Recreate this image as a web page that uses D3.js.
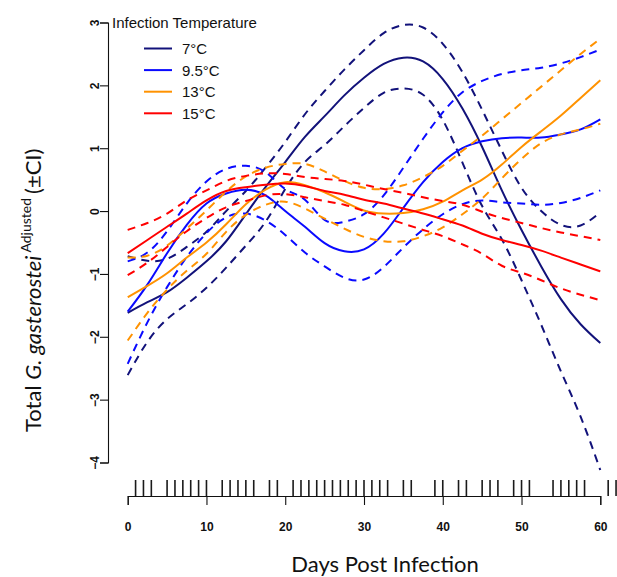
<!DOCTYPE html>
<html>
<head>
<meta charset="utf-8">
<script src="https://cdn.jsdelivr.net/npm/d3@7"></script>
<style>
  body { margin: 0; background: #fff; }
  svg { display: block; }
</style>
</head>
<body>
<svg id="chart" width="617" height="577"></svg>
<script>
// Days at which the fitted smooths are sampled
const days = [0, 2.5, 5, 7.5, 10, 12.5, 15, 17.5, 20, 22.5, 25, 27.5, 30,
              32.5, 35, 37.5, 40, 42.5, 45, 47.5, 50, 52.5, 55, 57.5, 60];

// 7°C: fitted mean and confidence limits
const mean7  = [-1.62, -1.45, -1.29, -1.06, -0.80, -0.48, -0.05, 0.38, 0.78, 1.18, 1.51, 1.84, 2.12,
                 2.34, 2.44, 2.38, 2.10, 1.63, 1.02, 0.33, -0.30, -0.88, -1.40, -1.80, -2.10];
const upper7 = [-0.72, -0.79, -0.76, -0.57, -0.33, 0.00, 0.32, 0.69, 1.10, 1.54, 1.91, 2.25, 2.56,
                 2.83, 2.96, 2.92, 2.66, 2.21, 1.61, 0.96, 0.37, 0.00, -0.22, -0.23, -0.02];
const lower7 = [-2.61, -2.08, -1.72, -1.48, -1.22, -0.90, -0.55, -0.17, 0.35, 0.78, 1.05, 1.35, 1.64,
                 1.88, 1.95, 1.85, 1.45, 0.77, 0.08, -0.45, -1.10, -1.81, -2.55, -3.27, -4.12];

// 9.5°C
const mean9  = [-1.60, -1.17, -0.67, -0.22, 0.12, 0.28, 0.34, 0.25, 0.00, -0.25, -0.51, -0.64, -0.61,
                -0.36, 0.05, 0.46, 0.78, 1.00, 1.11, 1.16, 1.17, 1.17, 1.22, 1.30, 1.46];
const upper9 = [-0.80, -0.66, -0.32, 0.12, 0.47, 0.67, 0.72, 0.62, 0.35, 0.18, -0.14, -0.17, -0.05,
                 0.25, 0.69, 1.15, 1.57, 1.89, 2.07, 2.18, 2.24, 2.28, 2.35, 2.45, 2.57];
const lower9 = [-2.43, -1.77, -1.21, -0.73, -0.35, -0.10, -0.04, -0.15, -0.38, -0.66, -0.88, -1.06, -1.09,
                -0.89, -0.58, -0.29, -0.05, 0.11, 0.17, 0.14, 0.12, 0.10, 0.13, 0.21, 0.33];

// 13°C
const mean13  = [-1.37, -1.19, -0.99, -0.74, -0.50, -0.21, 0.11, 0.34, 0.46, 0.41, 0.30, 0.15, 0.01,
                 -0.04, -0.03, 0.03, 0.15, 0.33, 0.50, 0.74, 1.02, 1.27, 1.52, 1.80, 2.08];
const upper13 = [-0.74, -0.71, -0.55, -0.28, 0.01, 0.31, 0.55, 0.69, 0.75, 0.75, 0.63, 0.48, 0.37,
                  0.35, 0.41, 0.54, 0.72, 0.96, 1.20, 1.46, 1.72, 1.98, 2.24, 2.50, 2.74];
const lower13 = [-2.06, -1.62, -1.25, -0.95, -0.68, -0.33, -0.06, 0.10, 0.15, 0.04, -0.12, -0.28, -0.41,
                 -0.48, -0.48, -0.40, -0.26, -0.05, 0.20, 0.52, 0.83, 1.08, 1.22, 1.30, 1.39];

// 15°C
const mean15  = [-0.67, -0.46, -0.25, -0.04, 0.17, 0.32, 0.38, 0.42, 0.44, 0.40, 0.32, 0.26, 0.18,
                  0.12, 0.04, -0.04, -0.13, -0.23, -0.36, -0.46, -0.54, -0.63, -0.74, -0.85, -0.96];
const upper15 = [-0.30, -0.19, -0.04, 0.17, 0.33, 0.48, 0.56, 0.60, 0.59, 0.54, 0.51, 0.48, 0.42,
                  0.35, 0.29, 0.22, 0.16, 0.10, -0.01, -0.11, -0.19, -0.27, -0.34, -0.40, -0.46];
const lower15 = [-1.02, -0.82, -0.57, -0.32, -0.11, 0.06, 0.16, 0.25, 0.27, 0.22, 0.16, 0.10, 0.00,
                 -0.10, -0.20, -0.30, -0.40, -0.53, -0.68, -0.87, -0.98, -1.10, -1.23, -1.33, -1.42];

// Sampling days shown as a rug along the x axis
const rugDays = [1, 2, 3, 5, 6, 7, 8, 9, 10, 12, 13, 14, 15, 16, 18, 19,
                 21, 22, 23, 24, 25, 26, 27, 28, 29, 30, 31, 32, 33, 35, 36, 39, 40,
                 42, 43, 45, 46, 47, 49, 50, 51, 54, 55, 56, 57, 58, 61, 62];

const xTicks = [0, 10, 20, 30, 40, 50, 60];
const yTicks = [-4, -3, -2, -1, 0, 1, 2, 3];

const groupLabels = ["7°C", "9.5°C", "13°C", "15°C"];
const groupColors = ["#12127a", "#0a0aff", "#ff9200", "#ff0000"];

const groups = [
  { mean: mean7,  upper: upper7,  lower: lower7 },
  { mean: mean9,  upper: upper9,  lower: lower9 },
  { mean: mean13, upper: upper13, lower: lower13 },
  { mean: mean15, upper: upper15, lower: lower15 }
];

const svg = d3.select("#chart");

const x = d3.scaleLinear().domain([0, 60]).range([127.7, 600.3]);
const y = d3.scaleLinear().domain([-4, 3]).range([462.5, 22.5]);

const axisFont = "'Liberation Sans', Arial, sans-serif";

// y axis (labels rotated, reading upward)
const yAxis = svg.append("g")
  .attr("transform", "translate(108,0)")
  .call(d3.axisLeft(y).tickValues(yTicks).tickSizeOuter(0).tickSize(8).tickFormat(d3.format("d")));
yAxis.selectAll("path, line").attr("stroke", "#111").attr("stroke-width", 1.1);
yAxis.selectAll("text")
  .attr("x", 0).attr("y", 0).attr("dy", "0.36em")
  .attr("transform", "translate(-13,0) rotate(-90)")
  .attr("text-anchor", "middle")
  .attr("fill", "#111")
  .style("font-family", axisFont).style("font-size", "12px").style("font-weight", "bold");

// x axis
const xAxis = svg.append("g")
  .attr("transform", "translate(0,496)")
  .call(d3.axisBottom(x).tickValues(xTicks).tickSizeOuter(0).tickSize(9));
xAxis.selectAll("path, line").attr("stroke", "#111").attr("stroke-width", 1.1);
xAxis.selectAll("text")
  .attr("y", 31).attr("dy", "0.36em")
  .attr("fill", "#111")
  .style("font-family", axisFont).style("font-size", "12px").style("font-weight", "bold");

// rug of sampling days
svg.append("g").selectAll("line")
  .data(rugDays)
  .join("line")
  .attr("x1", d => x(d)).attr("x2", d => x(d))
  .attr("y1", 480).attr("y2", 496)
  .attr("stroke", "#1a1a1a").attr("stroke-width", 1.6);

// fitted curves and confidence limits
const line = d3.line()
  .x((d, i) => x(days[i]))
  .y(d => y(d))
  .curve(d3.curveNatural);

const curves = svg.append("g").attr("fill", "none").attr("stroke-width", 2);
groups.forEach((g, k) => {
  const c = groupColors[k];
  [g.upper, g.lower].forEach(vals => {
    curves.append("path")
      .attr("d", line(vals))
      .attr("stroke", c)
      .attr("stroke-dasharray", "8,6");
  });
  curves.append("path")
    .attr("d", line(g.mean))
    .attr("stroke", c);
});

// legend
const legend = svg.append("g").style("font-family", axisFont);
legend.append("text")
  .attr("x", 112).attr("y", 28)
  .style("font-size", "15px").attr("fill", "#111")
  .text("Infection Temperature");
groupLabels.forEach((lab, i) => {
  const ly = 48.5 + i * 21.6;
  legend.append("line")
    .attr("x1", 144).attr("x2", 172)
    .attr("y1", ly).attr("y2", ly)
    .attr("stroke", groupColors[i]).attr("stroke-width", 2);
  legend.append("text")
    .attr("x", 182).attr("y", ly).attr("dy", "0.36em")
    .style("font-size", "15px").attr("fill", "#111")
    .text(lab);
});

// axis titles
const titleFont = "Lato, 'Open Sans', sans-serif";
svg.append("text")
  .attr("x", 385).attr("y", 572)
  .attr("text-anchor", "middle")
  .style("font-family", titleFont).style("font-size", "22px").attr("fill", "#111")
  .text("Days Post Infection");

const yt = svg.append("text")
  .attr("transform", "translate(41,432) rotate(-90)")
  .style("font-family", titleFont).style("font-size", "22px").attr("fill", "#111");
yt.append("tspan").text("Total ");
yt.append("tspan").style("font-style", "italic").text("G. gasterostei");
yt.append("tspan").attr("dx", 3).attr("dy", -10).style("font-size", "14px").text("Adjusted");
yt.append("tspan").attr("dx", 4).attr("dy", 10).text("(±CI)");
</script>
</body>
</html>
